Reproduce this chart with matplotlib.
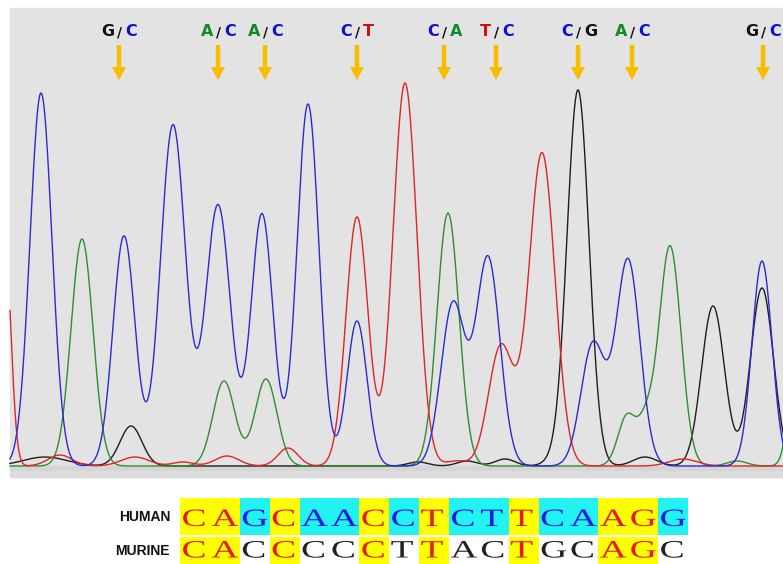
import numpy as np
import matplotlib.pyplot as plt
import matplotlib.patheffects as pe
from matplotlib.patches import Rectangle
from matplotlib.transforms import Affine2D

# peaks of each trace: scan position, height, width
blue_pos = [41, 124, 173, 218, 262, 308, 357, 453, 488, 593, 628, 762]
blue_h = [373, 230, 341, 261, 252, 362, 145, 162, 208, 122, 206, 205]
blue_w = [11, 11, 12.5, 12.5, 11, 11, 10, 12, 12, 12, 12, 10]

green_pos = [82, 224, 266, 448, 627, 646, 670, 737, 800]
green_h = [227, 85, 87, 253, 50, 38, 220, 5, 200]
green_w = [11, 11, 11, 11, 9, 8, 11, 10, 8]

red_pos = [5, 60, 135, 183, 227, 288, 357, 405, 456, 501, 542, 683]
red_h = [220, 11, 9, 4, 10, 18, 249, 383, 5, 120, 313, 7]
red_w = [6, 12, 14, 10, 12, 10, 11, 12, 10, 12.5, 13, 14]

black_pos = [45, 131, 418, 467, 505, 553, 578, 645, 713, 762]
black_h = [9, 40, 4, 5, 7, 4, 376, 9, 160, 178]
black_w = [22, 11, 10, 10, 10, 10, 11, 12, 11.5, 11.5]

# heterozygous calls above the trace
call_pos = [119, 218, 265, 357, 444, 496, 578, 632, 763]
call_first = ["G", "A", "A", "C", "C", "T", "C", "A", "G"]
call_second = ["C", "C", "C", "T", "A", "C", "G", "C", "C"]

human_seq = "CAGCAACCTCTTCAAGG"
murine_seq = "CACCCCCTTACTGCAGC"

base_col = {"G": "#111111", "C": "#1010c8", "A": "#108a2a", "T": "#d01010"}
trace_col = {"blue": "#2b2bd0", "green": "#2f8f2f", "red": "#e02525", "black": "#1e1e1e"}


class Stretch(pe.AbstractPathEffect):
    # widen glyphs horizontally, like the wide font of the alignment
    def __init__(self, sx):
        super().__init__()
        self.sx = sx

    def draw_path(self, renderer, gc, tpath, affine, rgbFace=None):
        renderer.draw_path(gc, tpath, Affine2D().scale(self.sx, 1) + affine, rgbFace)


def trace(x, pos, h, w):
    y = np.zeros_like(x)
    for p, a, s in zip(pos, h, w):
        y += a * np.exp(-(x - p) ** 2 / (2 * s ** 2))
    return y


fig = plt.figure(figsize=(7.83, 5.64), dpi=100)
ax = fig.add_axes([0, 0, 1, 1])
ax.set_xlim(0, 783)
ax.set_ylim(564, 0)
ax.axis("off")

# gray panel
ax.add_patch(Rectangle((10, 8), 780, 469, color="#e3e3e3", zorder=0))
ax.add_patch(Rectangle((10, 466), 780, 5, color="#d5d5d5", zorder=0))
ax.add_patch(Rectangle((10, 471), 780, 6, color="#dcdcdc", zorder=0))

base = 466
x = np.arange(10, 784, 0.5)
for name, pos, h, w in [("black", black_pos, black_h, black_w),
                        ("green", green_pos, green_h, green_w),
                        ("red", red_pos, red_h, red_w),
                        ("blue", blue_pos, blue_h, blue_w)]:
    ax.plot(x, base - trace(x, pos, h, w), color=trace_col[name], lw=1.0, zorder=2)

# calls and arrows
for cx, a, b in zip(call_pos, call_first, call_second):
    kw = dict(fontsize=11.5, fontweight="heavy", family="DejaVu Sans", va="center")
    ax.text(cx - 5, 32, a, color=base_col[a], ha="right", **kw)
    ax.text(cx + 1, 32, "/", color="#111111", ha="center", fontsize=10, fontweight="bold",
            family="DejaVu Sans", va="center")
    ax.text(cx + 6, 32, b, color=base_col[b], ha="left", **kw)
    ax.arrow(cx, 45, 0, 35, width=4.5, head_width=14, head_length=13,
             length_includes_head=True, color="#f9bd00", lw=0, zorder=3)

# alignment
x0, cw = 180, 29.88
for i, (hb, mb) in enumerate(zip(human_seq, murine_seq)):
    same = hb == mb
    left = x0 + i * cw
    ax.add_patch(Rectangle((left, 498), cw, 37, color="#ffff00" if same else "#22f2f2", lw=0))
    if same:
        ax.add_patch(Rectangle((left, 537), cw, 27, color="#ffff00", lw=0))
    st = [Stretch(1.5)]
    ax.text(left + 1.5, 526, hb, color="#e81818" if same else "#1a1ae0", fontsize=18,
            family="Liberation Serif", ha="left", va="baseline", path_effects=st)
    ax.text(left + 1.5, 557.5, mb, color="#e81818" if same else "#222222", fontsize=18,
            family="Liberation Serif", ha="left", va="baseline", path_effects=st)

ax.text(170, 517, "HUMAN", fontsize=10, fontweight="bold", family="Liberation Sans",
        ha="right", va="center", color="#111111")
ax.text(170, 551, "MURINE", fontsize=10, fontweight="bold", family="Liberation Sans",
        ha="right", va="center", color="#111111")

fig.savefig("out.png", dpi=100)
